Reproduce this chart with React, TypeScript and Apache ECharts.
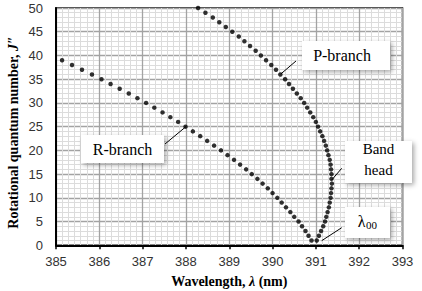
import React, { useEffect, useRef } from "react";
import * as echarts from "echarts";

// Axis ranges
const X_MIN = 385;
const X_MAX = 393;
const X_STEP = 1;
const Y_MIN = 0;
const Y_MAX = 50;
const Y_STEP = 5;

// R-branch: rotational quantum number and wavelength (nm)
const R_BRANCH_J = [
  1, 2, 3, 4, 5, 6, 7, 8, 9, 10, 11, 12, 13, 14, 15, 16, 17, 18, 19, 20,
  21, 22, 23, 24, 25, 26, 27, 28, 29, 30, 31, 32, 33, 34, 35, 36, 37, 38, 39,
];
const R_BRANCH_WAVELENGTH = [
  390.9, 390.83, 390.76, 390.68, 390.6, 390.5, 390.41, 390.31, 390.21, 390.11,
  390.0, 389.89, 389.77, 389.65, 389.52, 389.39, 389.25, 389.11, 388.96, 388.81,
  388.65, 388.49, 388.33, 388.16, 387.99, 387.82, 387.64, 387.46, 387.27, 387.08,
  386.88, 386.68, 386.47, 386.26, 386.05, 385.83, 385.6, 385.37, 385.14,
];

// P-branch: rotational quantum number and wavelength (nm)
const P_BRANCH_J = [
  1, 2, 3, 4, 5, 6, 7, 8, 9, 10, 11, 12, 13, 14, 15, 16, 17, 18, 19, 20,
  21, 22, 23, 24, 25, 26, 27, 28, 29, 30, 31, 32, 33, 34, 35, 36, 37, 38, 39, 40,
  41, 42, 43, 44, 45, 46, 47, 48, 49, 50,
];
const P_BRANCH_WAVELENGTH = [
  391.02, 391.07, 391.12, 391.17, 391.21, 391.24, 391.27, 391.3, 391.32, 391.34,
  391.35, 391.36, 391.37, 391.36, 391.36, 391.35, 391.34, 391.32, 391.29, 391.26,
  391.23, 391.19, 391.15, 391.1, 391.05, 391.0, 390.94, 390.87, 390.8, 390.73,
  390.65, 390.56, 390.47, 390.38, 390.29, 390.18, 390.08, 389.97, 389.85, 389.73,
  389.61, 389.48, 389.35, 389.22, 389.07, 388.92, 388.77, 388.62, 388.45, 388.28,
];

// Callout anchors (data coordinates)
const R_ANCHOR = [388.0, 25];
const P_ANCHOR = [390.18, 36];

const SERIF = '"Liberation Serif", "Times New Roman", serif';
const SANS = '"Liberation Sans", Arial, sans-serif';

export default function App() {
  const ref = useRef<HTMLDivElement>(null);

  useEffect(() => {
    document.body.style.margin = "0";
    if (!ref.current) return;
    const chart = echarts.init(ref.current, undefined, { renderer: "svg" });

    const rData = R_BRANCH_J.map((j, i) => [R_BRANCH_WAVELENGTH[i], j]);
    const pData = P_BRANCH_J.map((j, i) => [P_BRANCH_WAVELENGTH[i], j]);

    chart.setOption({
      animation: false,
      backgroundColor: "#fff",
      grid: {
        left: 56,
        right: 19.5,
        top: 8,
        bottom: 45.7,
        show: true,
        borderColor: "#000",
        borderWidth: 1.5,
        backgroundColor: "transparent",
      },
      xAxis: {
        type: "value",
        min: X_MIN,
        max: X_MAX,
        interval: X_STEP,
        axisLine: { show: true, onZero: false, lineStyle: { color: "#000", width: 2 } },
        axisTick: { show: true, inside: false, length: 4, lineStyle: { color: "#000", width: 1.5 } },
        axisLabel: { fontSize: 13, fontFamily: SANS, color: "#333", margin: 10 },
        splitLine: { show: true, lineStyle: { color: "#a3a3a3", width: 1.3 } },
        minorTick: { show: false, splitNumber: 7 },
        minorSplitLine: { show: true, lineStyle: { color: "#dcdcdc", width: 1 } },
      },
      yAxis: {
        type: "value",
        min: Y_MIN,
        max: Y_MAX,
        interval: Y_STEP,
        axisLine: { show: true, onZero: false, lineStyle: { color: "#000", width: 2 } },
        axisTick: { show: false },
        axisLabel: { fontSize: 13, fontFamily: SANS, color: "#333", margin: 13 },
        splitLine: { show: true, lineStyle: { color: "#a3a3a3", width: 1.3 } },
        minorTick: { show: false, splitNumber: 5 },
        minorSplitLine: { show: true, lineStyle: { color: "#dcdcdc", width: 1 } },
      },
      series: [
        {
          name: "R-branch",
          type: "scatter",
          data: rData,
          symbol: "circle",
          symbolSize: 4.5,
          itemStyle: { color: "#000" },
          z: 5,
        },
        {
          name: "P-branch",
          type: "scatter",
          data: pData,
          symbol: "circle",
          symbolSize: 4.5,
          itemStyle: { color: "#000" },
          z: 5,
        },
      ],
    });

    const rA = chart.convertToPixel({ gridIndex: 0 }, R_ANCHOR) as number[];
    const pA = chart.convertToPixel({ gridIndex: 0 }, P_ANCHOR) as number[];

    const box = (x: number, y: number, w: number, h: number) => ({
      type: "rect",
      shape: { x, y, width: w, height: h },
      style: {
        fill: "#fff",
        shadowBlur: 5,
        shadowOffsetX: 2,
        shadowOffsetY: 2,
        shadowColor: "rgba(0,0,0,0.35)",
      },
      z: 100,
    });
    const label = (text: string, x: number, y: number, size: number, extra: any = {}) => ({
      type: "text",
      x,
      y,
      style: {
        text,
        fontFamily: SERIF,
        fontSize: size,
        fill: "#000",
        align: "center",
        verticalAlign: "middle",
        ...extra,
      },
      z: 101,
    });
    const line = (x1: number, y1: number, x2: number, y2: number) => ({
      type: "line",
      shape: { x1, y1, x2, y2 },
      style: { stroke: "#000", lineWidth: 1 },
      z: 101,
    });

    chart.setOption({
      graphic: [
        // R-branch callout
        box(81, 135, 83, 28),
        label("R-branch", 122.5, 149.5, 16),
        line(165, 144, rA[0], rA[1]),
        // P-branch callout
        box(302, 41, 88, 29),
        label("P-branch", 342, 55.5, 16),
        line(pA[0] + 0.5, pA[1] - 0.5, 296, 61),
        // Band head callout
        box(345, 141, 67, 42),
        label("Band\nhead", 378.5, 159, 15, { lineHeight: 21 }),
        line(331.7, 180, 341.7, 168.3),
        // lambda00 callout
        box(345, 207, 45, 31),
        label("λ", 361.7, 221, 16),
        label("00", 371.5, 225, 11),
        line(321.7, 240.7, 341.7, 227.7),
        // Axis titles
        {
          type: "text",
          x: 229.3,
          y: 281.5,
          style: {
            text: "{b|Wavelength, }{i|λ}{b| (nm)}",
            align: "center",
            verticalAlign: "middle",
            rich: {
              b: { fontFamily: SERIF, fontSize: 14, fontWeight: "bold", fill: "#000" },
              i: { fontFamily: SERIF, fontSize: 14, fontWeight: "bold", fontStyle: "italic", fill: "#000" },
            },
          },
          z: 101,
        },
        {
          type: "text",
          x: 13.3,
          y: 132.5,
          rotation: Math.PI / 2,
          style: {
            text: "{b|Rotational quantum number, }{i|J}{b|″}",
            align: "center",
            verticalAlign: "middle",
            rich: {
              b: { fontFamily: SERIF, fontSize: 14, fontWeight: "bold", fill: "#000" },
              i: { fontFamily: SERIF, fontSize: 14, fontWeight: "bold", fontStyle: "italic", fill: "#000" },
            },
          },
          z: 101,
        },
      ],
    });

    return () => chart.dispose();
  }, []);

  return <div ref={ref} style={{ width: 422, height: 291 }} />;
}
